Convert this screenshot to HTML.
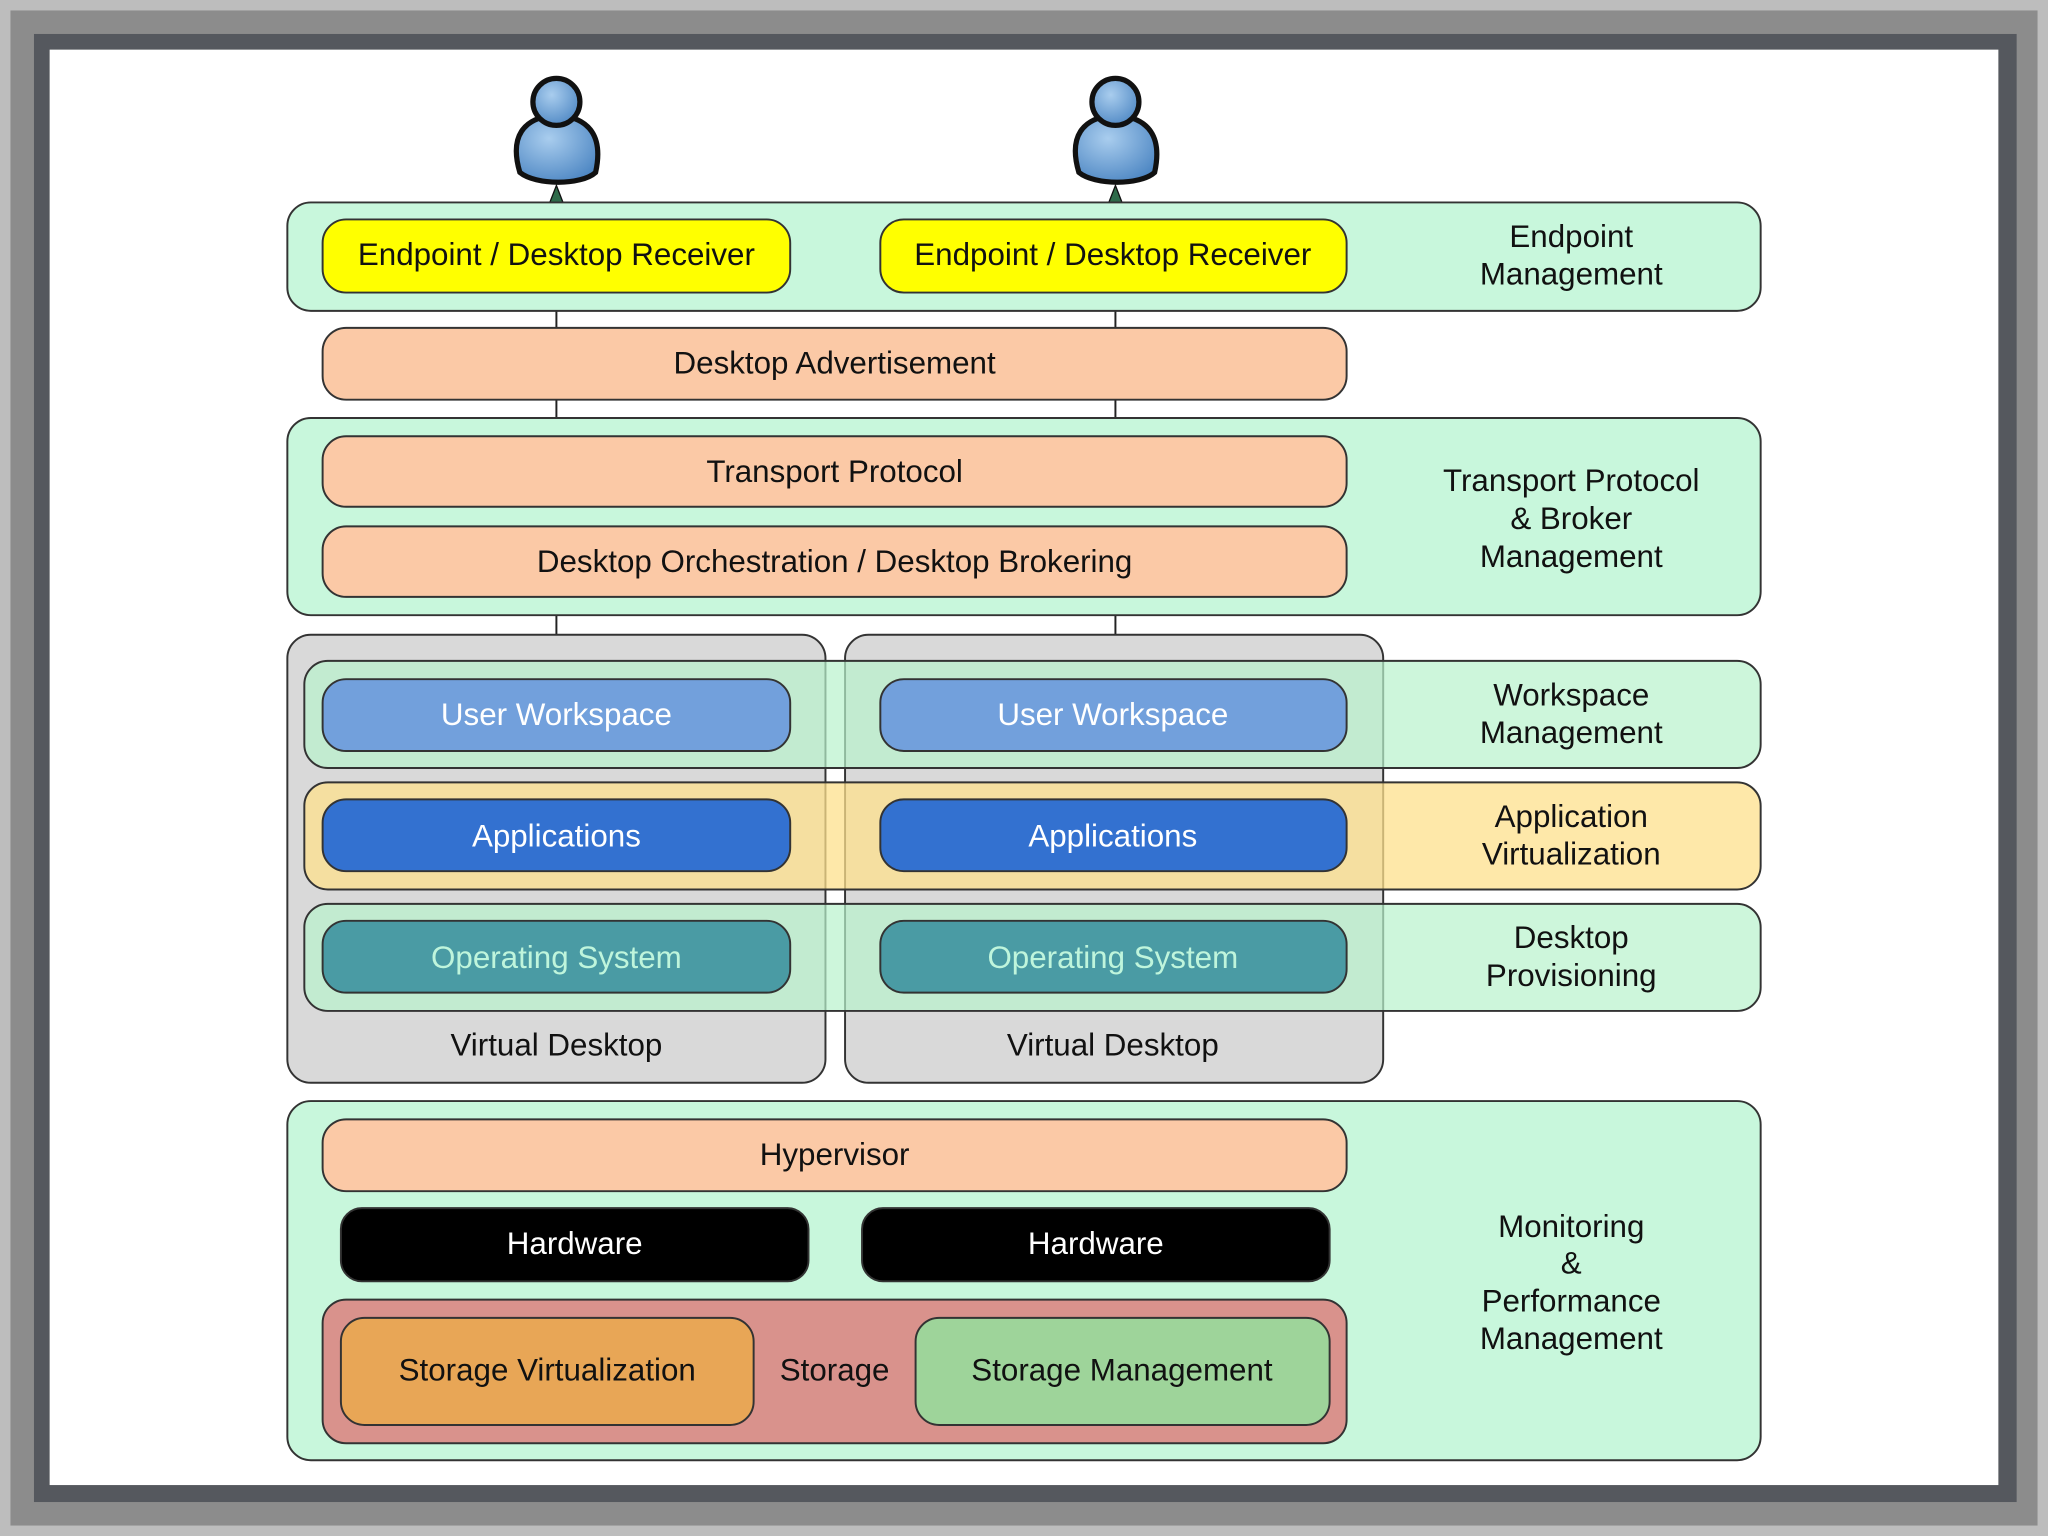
<!DOCTYPE html>
<html><head><meta charset="utf-8"><style>html,body{margin:0;padding:0;background:#fff}svg{display:block}text{font-family:"Liberation Sans",sans-serif;font-size:24px;text-anchor:middle}</style></head>
<body>
<svg width="2048" height="1536" viewBox="0 0 1568 1176" xmlns="http://www.w3.org/2000/svg">
<defs>
<radialGradient id="pg" cx="0.4" cy="0.35" r="0.7"><stop offset="0" stop-color="#a9cdee"/><stop offset="1" stop-color="#4f88c4"/></radialGradient>
</defs>
<rect x="0" y="0" width="1568" height="1176" fill="#bdbdbd"/>
<rect x="8" y="8" width="1552" height="1160" fill="#8c8c8c"/>
<rect x="26" y="26" width="1518" height="1124" fill="#55585e"/>
<rect x="38" y="38" width="1492" height="1099" fill="#ffffff"/>
<g stroke="#222" stroke-width="1.5">
<line x1="426" y1="160" x2="426" y2="486"/>
<line x1="854" y1="160" x2="854" y2="486"/>
</g>
<polygon points="426,142 419,160 433,160" fill="#2e6b4a" stroke="#111" stroke-width="1"/>
<polygon points="854,142 847,160 861,160" fill="#2e6b4a" stroke="#111" stroke-width="1"/>
<g stroke="#111" stroke-width="4" fill="url(#pg)">
<path d="M398,132 C390,105 400,90 426,88 C452,90 462,105 456,132 C445,142 410,142 398,132 Z"/>
<circle cx="426" cy="78" r="18"/>
<path d="M826,132 C818,105 828,90 854,88 C880,90 890,105 884,132 C873,142 838,142 826,132 Z"/>
<circle cx="854" cy="78" r="18"/>
</g>
<g stroke="#333" stroke-width="1.5">
<rect x="220" y="155" width="1128" height="83" rx="18" fill="#c8f7dc"/>
<rect x="247" y="168" width="358" height="56" rx="18" fill="#ffff00"/>
<rect x="674" y="168" width="357" height="56" rx="18" fill="#ffff00"/>
<rect x="247" y="251" width="784" height="55" rx="18" fill="#fbc9a6"/>
<rect x="220" y="320" width="1128" height="151" rx="18" fill="#c8f7dc"/>
<rect x="247" y="334" width="784" height="54" rx="18" fill="#fbc9a6"/>
<rect x="247" y="403" width="784" height="54" rx="18" fill="#fbc9a6"/>
<rect x="220" y="486" width="412" height="343" rx="18" fill="#d9d9d9"/>
<rect x="647" y="486" width="412" height="343" rx="18" fill="#d9d9d9"/>
<rect x="233" y="506" width="1115" height="82" rx="18" fill="#b8f2cc" fill-opacity="0.7"/>
<rect x="233" y="599" width="1115" height="82" rx="18" fill="#fde08c" fill-opacity="0.75"/>
<rect x="233" y="692" width="1115" height="82" rx="18" fill="#b8f2cc" fill-opacity="0.7"/>
<rect x="247" y="520" width="358" height="55" rx="18" fill="#72a0dc"/>
<rect x="674" y="520" width="357" height="55" rx="18" fill="#72a0dc"/>
<rect x="247" y="612" width="358" height="55" rx="18" fill="#3371d0"/>
<rect x="674" y="612" width="357" height="55" rx="18" fill="#3371d0"/>
<rect x="247" y="705" width="358" height="55" rx="18" fill="#4a9ba4"/>
<rect x="674" y="705" width="357" height="55" rx="18" fill="#4a9ba4"/>
<rect x="220" y="843" width="1128" height="275" rx="18" fill="#c8f7dc"/>
<rect x="247" y="857" width="784" height="55" rx="18" fill="#fbc9a6"/>
<rect x="261" y="925" width="358" height="56" rx="16" fill="#000"/>
<rect x="660" y="925" width="358" height="56" rx="16" fill="#000"/>
<rect x="247" y="995" width="784" height="110" rx="18" fill="#d9928c"/>
<rect x="261" y="1009" width="316" height="82" rx="18" fill="#e8a656"/>
<rect x="701" y="1009" width="317" height="82" rx="18" fill="#9ed49a"/>
</g>
<g fill="#111">
<text x="426" y="203">Endpoint / Desktop Receiver</text>
<text x="852" y="203">Endpoint / Desktop Receiver</text>
<text x="1203" y="189">Endpoint</text><text x="1203" y="218">Management</text>
<text x="639" y="286">Desktop Advertisement</text>
<text x="639" y="369">Transport Protocol</text>
<text x="639" y="438">Desktop Orchestration / Desktop Brokering</text>
<text x="1203" y="376">Transport Protocol</text><text x="1203" y="405">&amp; Broker</text><text x="1203" y="434">Management</text>
<text x="1203" y="540">Workspace</text><text x="1203" y="569">Management</text>
<text x="1203" y="633">Application</text><text x="1203" y="662">Virtualization</text>
<text x="1203" y="726">Desktop</text><text x="1203" y="755">Provisioning</text>
<text x="426" y="808">Virtual Desktop</text>
<text x="852" y="808">Virtual Desktop</text>
<text x="639" y="892">Hypervisor</text>
<text x="419" y="1057">Storage Virtualization</text>
<text x="639" y="1057">Storage</text>
<text x="859" y="1057">Storage Management</text>
<text x="1203" y="947">Monitoring</text><text x="1203" y="975">&amp;</text><text x="1203" y="1004">Performance</text><text x="1203" y="1033">Management</text>
</g>
<g fill="#fff">
<text x="426" y="555">User Workspace</text><text x="852" y="555">User Workspace</text>
<text x="426" y="648">Applications</text><text x="852" y="648">Applications</text>
<text x="440" y="960">Hardware</text><text x="839" y="960">Hardware</text>
</g>
<g fill="#bff5dc">
<text x="426" y="741">Operating System</text><text x="852" y="741">Operating System</text>
</g>
</svg>
</body></html>
